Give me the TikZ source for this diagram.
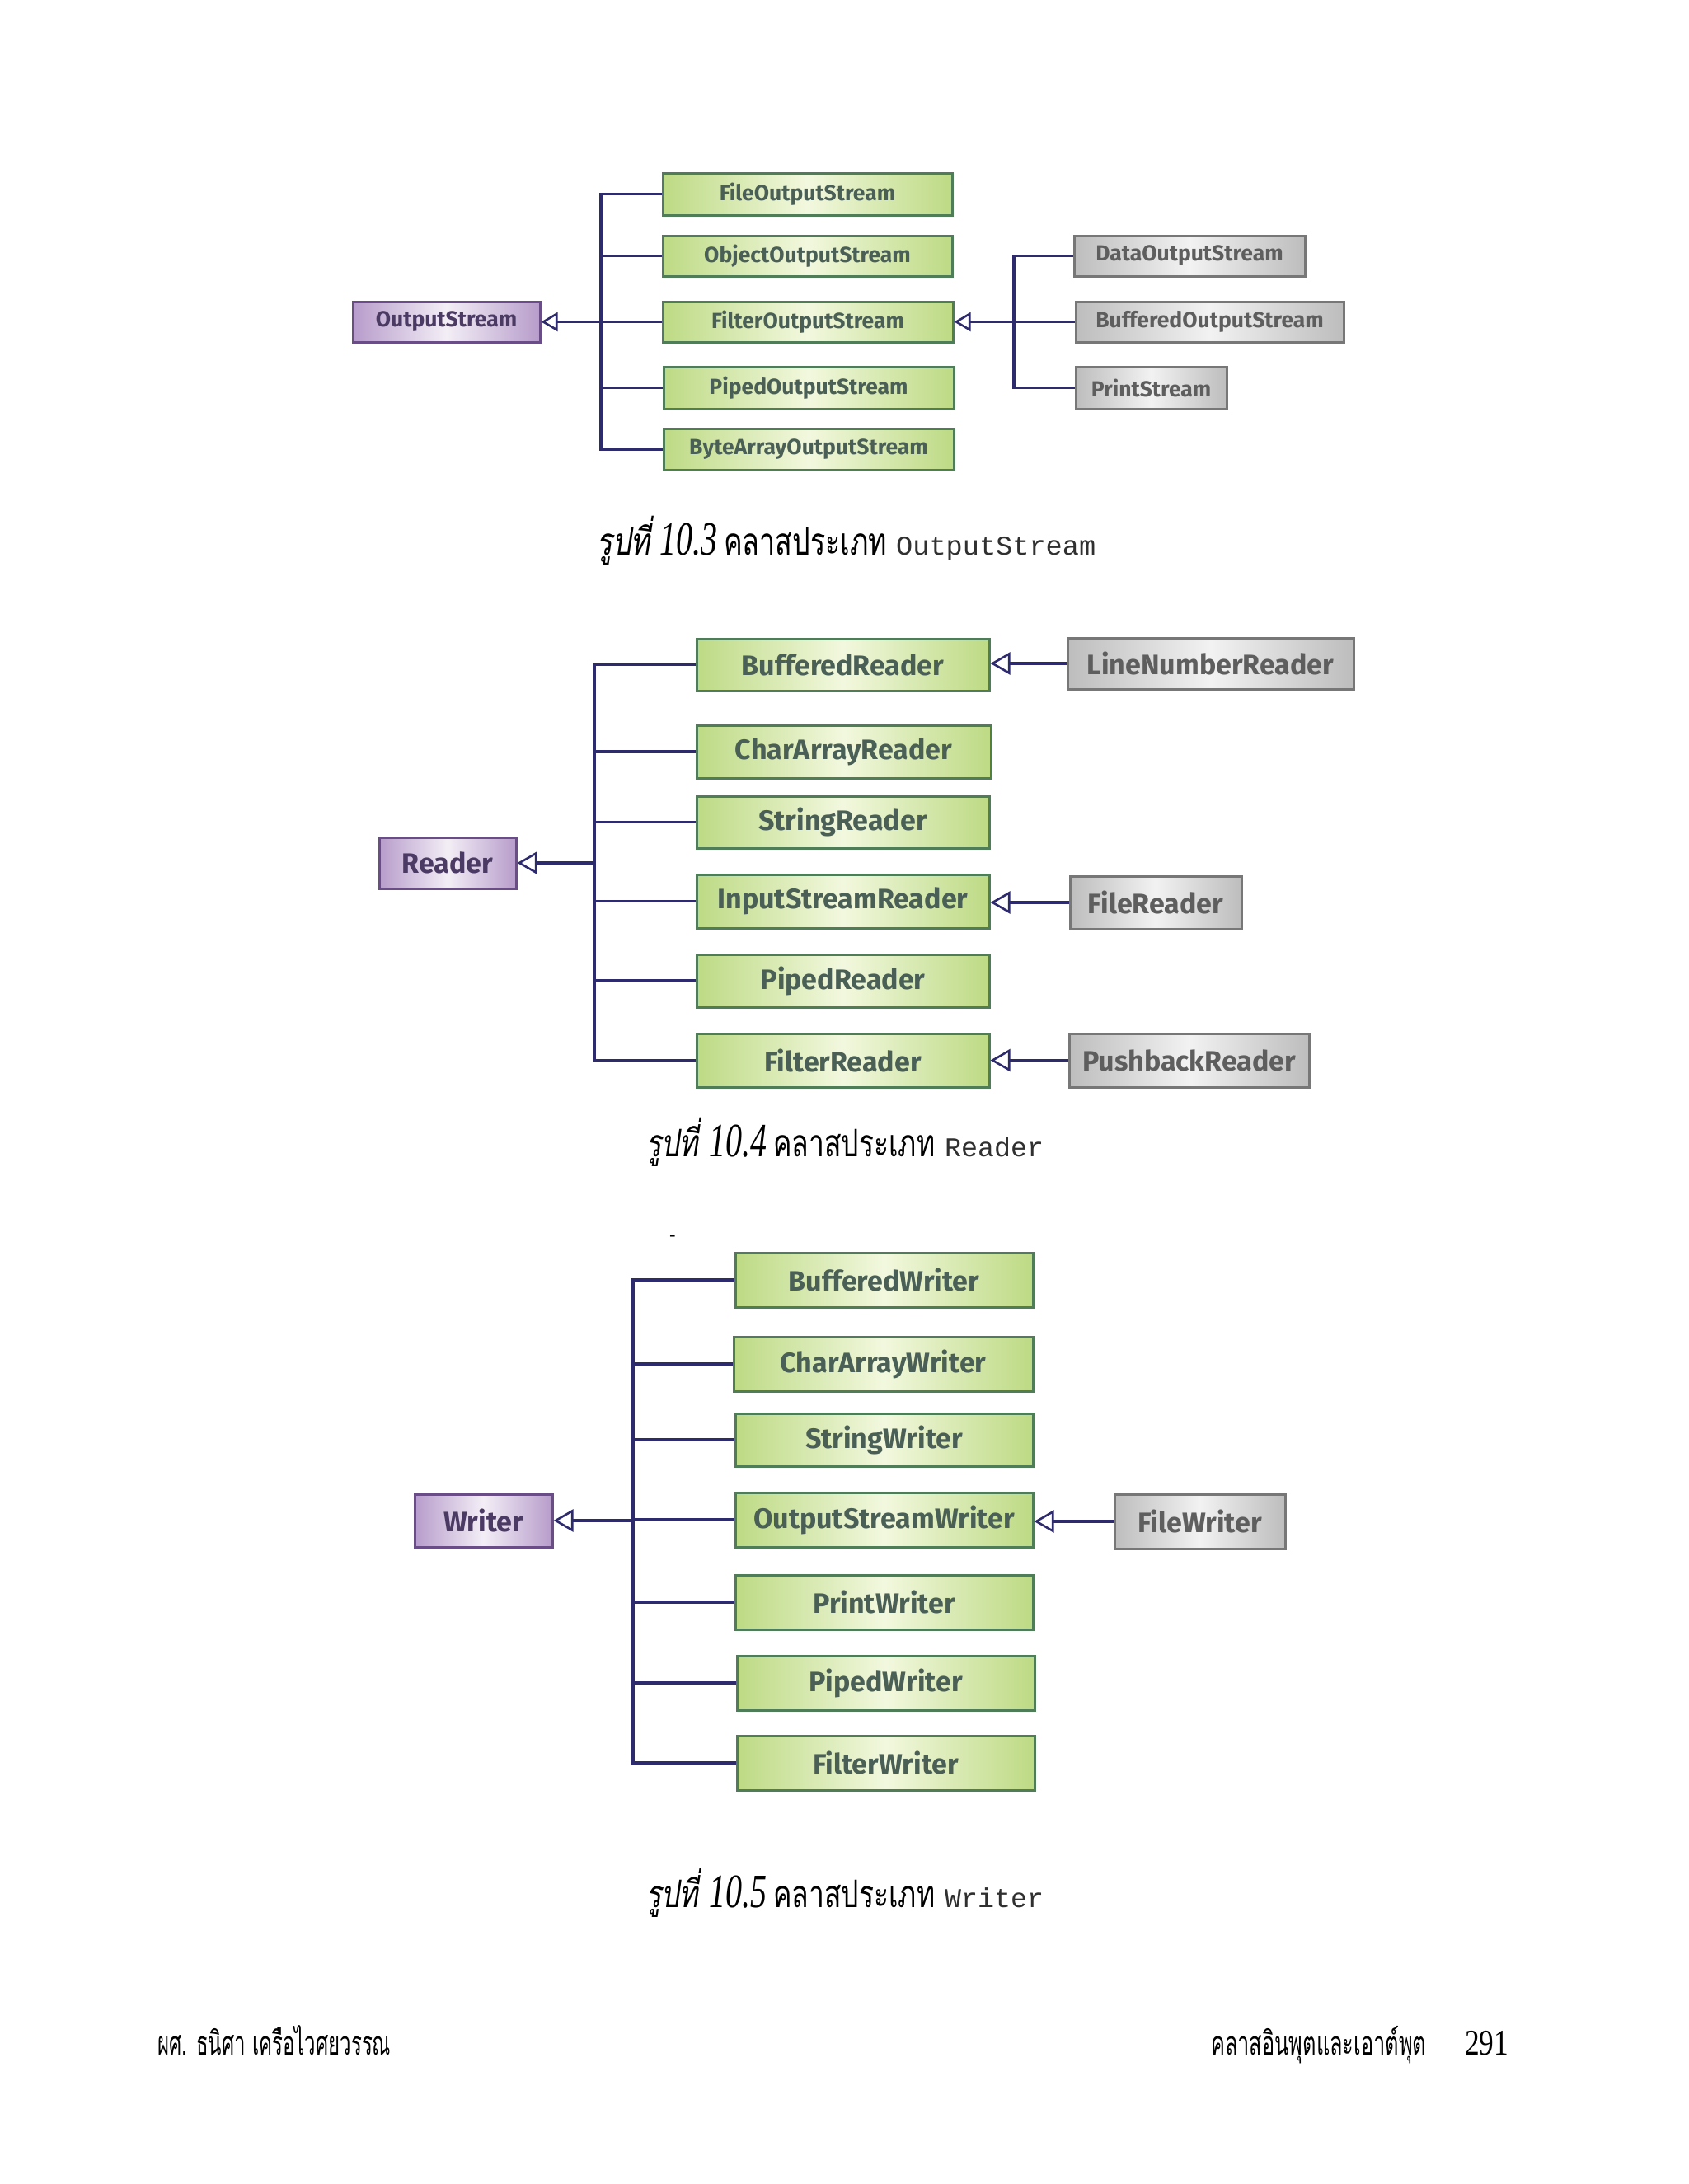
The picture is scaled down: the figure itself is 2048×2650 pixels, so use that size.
\documentclass[tikz,border=0pt]{standalone}
\usepackage{fontspec}
\usetikzlibrary{arrows.meta}
\newfontfamily\lblfont{Fira Sans}
\newfontfamily\thaifont[Script=Thai]{Loma}
\newfontfamily\thaiitfont[Script=Thai,FakeSlant=0.2]{Loma}
\newfontfamily\seriffont{Liberation Serif}
\newfontfamily\monofont{Liberation Mono}
\definecolor{gEdge}{HTML}{BDDA84}
\definecolor{gMid}{HTML}{F2F8DE}
\definecolor{gBorder}{HTML}{4E7D57}
\definecolor{gText}{HTML}{4A5F55}
\definecolor{pEdge}{HTML}{B79CCB}
\definecolor{pMid}{HTML}{F3EEF6}
\definecolor{pBorder}{HTML}{6A4C86}
\definecolor{pText}{HTML}{4B3A63}
\definecolor{kEdge}{HTML}{BDBDBD}
\definecolor{kMid}{HTML}{F2F2F2}
\definecolor{kBorder}{HTML}{777777}
\definecolor{kText}{HTML}{5E5E5E}
\definecolor{connC}{HTML}{2E2A6E}
\definecolor{monoC}{HTML}{303030}
\newcommand\umlbox[7]{%
  \node[#2, minimum width=\the\numexpr#5-#3\relax pt, minimum height=\the\numexpr#6-#4\relax pt] (#1) at ({(#3+#5)/2},{(#4+#6)/2}) {#7};}
\begin{document}
\begin{tikzpicture}[x=1pt,y=-1pt,
  greenbox/.style={draw=gBorder, left color=gEdge, right color=gEdge, middle color=gMid, text=gText, line width=3pt, inner sep=0pt},
  purplebox/.style={draw=pBorder, left color=pEdge, right color=pEdge, middle color=pMid, text=pText, line width=3pt, inner sep=0pt},
  greybox/.style={draw=kBorder, left color=kEdge, right color=kEdge, middle color=kMid, text=kText, line width=3pt, inner sep=0pt},
  lblS/.style={font=\lblfont\bfseries\fontsize{26.5}{30}\selectfont},
  lblL/.style={font=\lblfont\bfseries\fontsize{34}{38}\selectfont},
  conn/.style={draw=connC, line width=3.2pt},
  genS/.style={-{Triangle[open, length=20pt, width=23pt, line width=2.6pt]}},
  genL/.style={-{Triangle[open, length=24pt, width=27pt, line width=2.6pt]}},
  captxt/.style={anchor=base west, inner sep=0pt}
]
\useasboundingbox[fill=white] (0,0) rectangle (2048,2650);

% ---------------- Figure 10.3 ----------------
\umlbox{os}{purplebox,lblS}{428}{366}{655}{415}{OutputStream}
\umlbox{fos}{greenbox,lblS}{804}{210}{1155}{261}{FileOutputStream}
\umlbox{oos}{greenbox,lblS}{804}{286}{1155}{335}{ObjectOutputStream}
\umlbox{filos}{greenbox,lblS}{804}{366}{1156}{415}{FilterOutputStream}
\umlbox{pos}{greenbox,lblS}{805}{445}{1157}{496}{PipedOutputStream}
\umlbox{baos}{greenbox,lblS}{805}{520}{1157}{570}{ByteArrayOutputStream}
\umlbox{dos}{greybox,lblS}{1303}{286}{1583}{335}{DataOutputStream}
\umlbox{bos}{greybox,lblS}{1305}{366}{1630}{415}{BufferedOutputStream}
\umlbox{ps}{greybox,lblS}{1305}{445}{1488}{496}{PrintStream}
\coordinate (t1) at (729,390.5);
\coordinate (t1b) at (1230,390.5);
\draw[conn] (fos.west) -- (fos.west -| t1) -- (baos.west -| t1) -- (baos.west);
\draw[conn] (oos.west) -- (oos.west -| t1);
\draw[conn] (filos.west) -- (filos.west -| t1);
\draw[conn] (pos.west) -- (pos.west -| t1);
\draw[conn,genS] (t1) -- (t1 -| os.east);
\draw[conn] (dos.west) -- (dos.west -| t1b) -- (ps.west -| t1b) -- (ps.west);
\draw[conn] (bos.west) -- (bos.west -| t1b);
\draw[conn,genS] (t1b) -- (t1b -| filos.east);

\node[captxt] (c1a) at (724,673) {\resizebox{65pt}{\height}{\thaiitfont\fontsize{46}{50}\selectfont รูปที่}};
\node[captxt] (c1b) at (800,673) {\resizebox{70pt}{\height}{\seriffont\itshape\fontsize{58}{60}\selectfont 10.3}};
\node[captxt] (c1c) at (878,673) {\resizebox{198pt}{\height}{\thaifont\fontsize{46}{50}\selectfont คลาสประเภท}};
\node[captxt, text=monoC] (c1d) at (1087,673) {\resizebox{242pt}{\height}{\monofont\fontsize{33}{36}\selectfont OutputStream}};

% ---------------- Figure 10.4 ----------------
\umlbox{rd}{purplebox,lblL}{460}{1016}{626}{1078}{Reader}
\umlbox{br}{greenbox,lblL}{845}{775}{1200}{838}{BufferedReader}
\umlbox{car}{greenbox,lblL}{845}{880}{1202}{944}{CharArrayReader}
\umlbox{sr}{greenbox,lblL}{845}{966}{1200}{1029}{StringReader}
\umlbox{isr}{greenbox,lblL}{845}{1061}{1200}{1126}{InputStreamReader}
\umlbox{pr}{greenbox,lblL}{845}{1158}{1200}{1222}{PipedReader}
\umlbox{flr}{greenbox,lblL}{845}{1254}{1200}{1319}{FilterReader}
\umlbox{lnr}{greybox,lblL}{1295}{774}{1642}{836}{LineNumberReader}
\umlbox{fir}{greybox,lblL}{1298}{1063}{1506}{1127}{FileReader}
\umlbox{pbr}{greybox,lblL}{1297}{1254}{1588}{1319}{PushbackReader}
\coordinate (t2) at (721,1047);
\draw[conn] (br.west) -- (br.west -| t2) -- (flr.west -| t2) -- (flr.west);
\draw[conn] (car.west) -- (car.west -| t2);
\draw[conn] (sr.west) -- (sr.west -| t2);
\draw[conn] (isr.west) -- (isr.west -| t2);
\draw[conn] (pr.west) -- (pr.west -| t2);
\draw[conn,genL] (t2) -- (t2 -| rd.east);
\draw[conn,genL] (lnr.west) -- (lnr.west -| br.east);
\draw[conn,genL] (fir.west) -- (fir.west -| isr.east);
\draw[conn,genL] (pbr.west) -- (pbr.west -| flr.east);

\node[captxt] (c2a) at (784,1403) {\resizebox{63pt}{\height}{\thaiitfont\fontsize{46}{50}\selectfont รูปที่}};
\node[captxt] (c2b) at (860,1403) {\resizebox{70pt}{\height}{\seriffont\itshape\fontsize{58}{60}\selectfont 10.4}};
\node[captxt] (c2c) at (938,1403) {\resizebox{196pt}{\height}{\thaifont\fontsize{46}{50}\selectfont คลาสประเภท}};
\node[captxt, text=monoC] (c2d) at (1146,1403) {\resizebox{120pt}{\height}{\monofont\fontsize{33}{36}\selectfont Reader}};

% ---------------- Figure 10.5 ----------------
\node[font=\lblfont\fontsize{20}{22}\selectfont, text=black, inner sep=0pt] (dash) at (816,1503) {-};
\umlbox{wr}{purplebox,lblL}{503}{1813}{670}{1877}{Writer}
\umlbox{bw}{greenbox,lblL}{892}{1520}{1253}{1586}{BufferedWriter}
\umlbox{caw}{greenbox,lblL}{890}{1622}{1253}{1688}{CharArrayWriter}
\umlbox{sw}{greenbox,lblL}{892}{1715}{1253}{1779}{StringWriter}
\umlbox{osw}{greenbox,lblL}{892}{1811}{1253}{1877}{OutputStreamWriter}
\umlbox{pw}{greenbox,lblL}{892}{1911}{1253}{1977}{PrintWriter}
\umlbox{piw}{greenbox,lblL}{894}{2009}{1255}{2075}{PipedWriter}
\umlbox{fw}{greenbox,lblL}{894}{2106}{1255}{2172}{FilterWriter}
\umlbox{fiw}{greybox,lblL}{1352}{1813}{1559}{1879}{FileWriter}
\coordinate (t3) at (768,1845);
\draw[conn] (bw.west) -- (bw.west -| t3) -- (fw.west -| t3) -- (fw.west);
\draw[conn] (caw.west) -- (caw.west -| t3);
\draw[conn] (sw.west) -- (sw.west -| t3);
\draw[conn] (osw.west) -- (osw.west -| t3);
\draw[conn] (pw.west) -- (pw.west -| t3);
\draw[conn] (piw.west) -- (piw.west -| t3);
\draw[conn,genL] (t3) -- (t3 -| wr.east);
\draw[conn,genL] (fiw.west) -- (fiw.west -| osw.east);

\node[captxt] (c3a) at (784,2314) {\resizebox{63pt}{\height}{\thaiitfont\fontsize{46}{50}\selectfont รูปที่}};
\node[captxt] (c3b) at (860,2314) {\resizebox{70pt}{\height}{\seriffont\itshape\fontsize{58}{60}\selectfont 10.5}};
\node[captxt] (c3c) at (938,2314) {\resizebox{196pt}{\height}{\thaifont\fontsize{46}{50}\selectfont คลาสประเภท}};
\node[captxt, text=monoC] (c3d) at (1146,2314) {\resizebox{120pt}{\height}{\monofont\fontsize{33}{36}\selectfont Writer}};

% ---------------- Footer ----------------
\node[captxt] (ftl) at (191,2493) {\resizebox{283pt}{\height}{\thaifont\fontsize{40}{44}\selectfont ผศ. ธนิศา เครือไวศยวรรณ}};
\node[captxt] (ftr) at (1469,2493) {\resizebox{261pt}{\height}{\thaifont\fontsize{40}{44}\selectfont คลาสอินพุตและเอาต์พุต}};
\node[captxt] (pg) at (1777,2493) {\resizebox{53pt}{\height}{\seriffont\fontsize{44}{48}\selectfont 291}};
\end{tikzpicture}
\end{document}
